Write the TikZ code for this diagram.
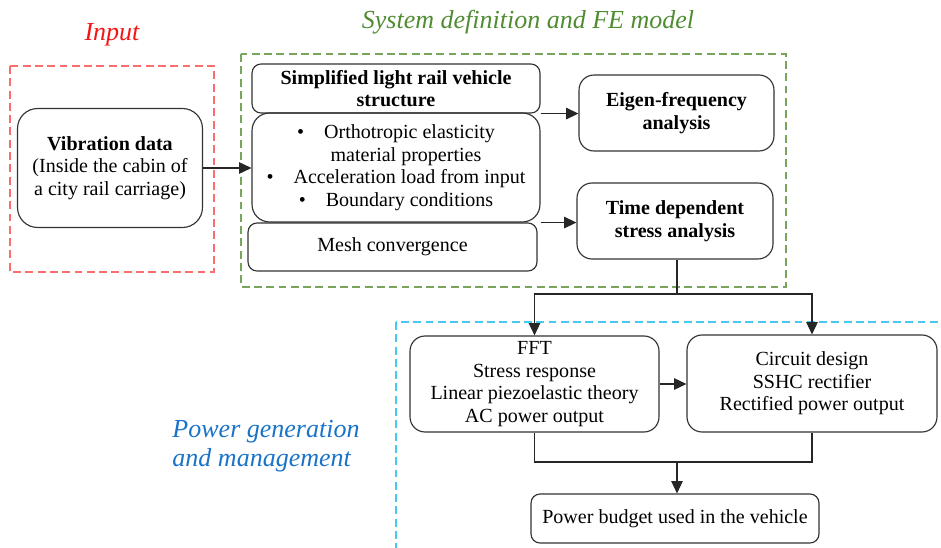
\documentclass[tikz,border=0pt]{standalone}
\usepackage{fontspec}
\setmainfont{Liberation Serif}
\usetikzlibrary{arrows.meta}

\definecolor{inred}{RGB}{245,20,20}
\definecolor{framered}{RGB}{250,110,110}
\definecolor{fegreen}{RGB}{80,140,50}
\definecolor{framegreen}{RGB}{120,165,90}
\definecolor{pwblue}{RGB}{25,115,200}
\definecolor{frameblue}{RGB}{70,200,240}

\tikzset{
    block/.style={draw=black!80, line width=0.65pt, rounded corners=0.18cm, align=center,
        inner sep=2pt, font=\fontsize{11.4}{12.8}\selectfont},
    title/.style={font=\fontsize{14.8}{16.5}\selectfont\itshape},
    frame/.style={line width=0.6pt, dash pattern=on 4.5pt off 2.5pt},
    arr/.style={line width=0.65pt, draw=black!85, -{Triangle[length=7pt, width=6.5pt]}},
    link/.style={line width=0.65pt, draw=black!85},
}

\begin{document}
\begin{tikzpicture}[x=0.02cm, y=-0.02cm]
    \clip (0, 0) rectangle (941, 548);

    % frames and titles
    \draw[frame, framered] (10, 66) rectangle (214, 272);
    \draw[frame, framegreen] (241, 54) rectangle (786, 287);
    \draw[frame, frameblue] (396, 322) rectangle (960, 570);
    \node[title, inred] (intitle) at (112, 35) {Input};
    \node[title, fegreen] (fetitle) at (528, 22) {System definition and FE model};
    \node[title, pwblue, align=left] (pwtitle) at (266, 446) {Power generation\\and management};

    % input
    \node[block, rounded corners=0.4cm, minimum width=3.7cm, minimum height=2.38cm] (vib) at (110, 168)
        {\textbf{Vibration data}\\(Inside the cabin of\\a city rail carriage)};

    % FE model
    \node[block, minimum width=5.76cm, minimum height=0.98cm] (simp) at (396, 88.5)
        {\textbf{Simplified light rail vehicle}\\\textbf{structure}};
    \node[block, rounded corners=0.35cm, minimum width=5.76cm, minimum height=2.18cm] (bullet) at (396, 167.5)
        {\textbullet\quad Orthotropic elasticity\\\quad material properties\\\textbullet\quad Acceleration load from input\\\textbullet\quad Boundary conditions};
    \node[block, minimum width=5.78cm, minimum height=0.96cm] (mesh) at (392.5, 247) {Mesh convergence};
    \node[block, rounded corners=0.3cm, minimum width=3.9cm, minimum height=1.52cm] (eigen) at (676.5, 113)
        {\textbf{Eigen-frequency}\\\textbf{analysis}};
    \node[block, rounded corners=0.3cm, minimum width=3.92cm, minimum height=1.52cm] (time) at (675, 221)
        {\textbf{Time dependent}\\\textbf{stress analysis}};

    % power
    \node[block, rounded corners=0.3cm, minimum width=4.98cm, minimum height=1.92cm] (fft) at (534.5, 384)
        {FFT\\Stress response\\Linear piezoelastic theory\\AC power output};
    \node[block, rounded corners=0.3cm, minimum width=5cm, minimum height=1.94cm] (circ) at (812, 383.5)
        {Circuit design\\SSHC rectifier\\Rectified power output};
    \node[block, minimum width=5.76cm, minimum height=0.98cm] (power) at (675, 518.5)
        {Power budget used in the vehicle};

    \coordinate (split) at (677, 294);
    \coordinate (merge) at (677, 462);

    \draw[arr] (vib.east) -- (vib.east -| bullet.west);
    \draw[arr] (simp.south east) -- (simp.south east -| eigen.west);
    \draw[arr] (bullet.south east) -- (bullet.south east -| time.west);
    \draw[link] (time.south -| split) -- (split);
    \draw[arr] (split) -| (fft.north);
    \draw[arr] (split) -| (circ.north);
    \draw[arr] (fft.east) -- (fft.east -| circ.west);
    \draw[link] (fft.south) |- (merge) -| (circ.south);
    \draw[arr] (merge) -- (merge |- power.north);
\end{tikzpicture}
\end{document}
